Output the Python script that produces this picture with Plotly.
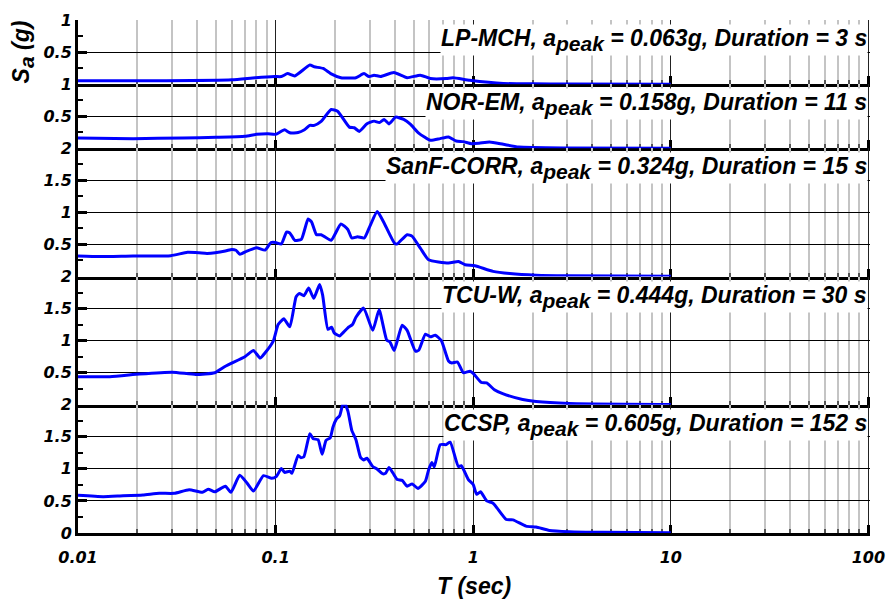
import plotly.graph_objects as go
from plotly.subplots import make_subplots

# ---------------- data ----------------
T1 = [0.01, 0.028, 0.06, 0.079, 0.099, 0.107, 0.115, 0.125, 0.149, 0.157, 0.174, 0.19, 0.214, 0.255,
      0.28, 0.297, 0.315, 0.34, 0.397, 0.463, 0.54, 0.607, 0.73, 0.79, 0.96, 1.42, 2.0, 3.0, 10]
S1 = [0.052, 0.052, 0.067, 0.10, 0.118, 0.118, 0.164, 0.128, 0.297, 0.27, 0.245, 0.164, 0.10, 0.10,
      0.164, 0.118, 0.14, 0.12, 0.18, 0.10, 0.14, 0.087, 0.087, 0.10, 0.061, 0.01, 0.004, 0.002, 0.0]

T2 = [0.01, 0.019, 0.034, 0.05, 0.07, 0.08, 0.0915, 0.1, 0.111, 0.118, 0.13, 0.14, 0.149, 0.157,
      0.17, 0.191, 0.206, 0.236, 0.25, 0.265, 0.29, 0.315, 0.335, 0.354, 0.375, 0.405, 0.445, 0.482,
      0.53, 0.607, 0.68, 0.75, 0.82, 0.89, 0.98, 1.07, 1.21, 1.42, 1.7, 3.0, 10]
S2 = [0.16, 0.15, 0.16, 0.17, 0.186, 0.217, 0.226, 0.217, 0.288, 0.241, 0.245, 0.288, 0.356, 0.356,
      0.418, 0.604, 0.577, 0.33, 0.32, 0.263, 0.381, 0.423, 0.40, 0.449, 0.38, 0.485, 0.449, 0.371,
      0.237, 0.124, 0.15, 0.175, 0.113, 0.103, 0.071, 0.078, 0.098, 0.062, 0.02, 0.005, 0.0]

T3 = [0.01, 0.0129, 0.019, 0.0295, 0.0358, 0.041, 0.045, 0.0557, 0.06, 0.063, 0.066, 0.0716, 0.08,
      0.0885, 0.0948, 0.1, 0.107, 0.1136, 0.118, 0.125, 0.135, 0.146, 0.152, 0.161, 0.17, 0.191,
      0.214, 0.232, 0.243, 0.26, 0.281, 0.301, 0.327, 0.356, 0.401, 0.413, 0.463, 0.49, 0.541,
      0.595, 0.75, 0.842, 0.91, 1.02, 1.26, 1.53, 2.08, 3.0, 10]
S3 = [0.32, 0.31, 0.32, 0.325, 0.377, 0.37, 0.36, 0.397, 0.423, 0.41, 0.347, 0.397, 0.447,
      0.412, 0.53, 0.53, 0.508, 0.692, 0.68, 0.565, 0.58, 0.896, 0.85, 0.652, 0.652, 0.565,
      0.82, 0.733, 0.60, 0.62, 0.60, 0.794, 1.012, 0.82, 0.514, 0.51, 0.652, 0.63, 0.438,
      0.26, 0.21, 0.234, 0.183, 0.168, 0.08, 0.046, 0.02, 0.01, 0.004]

T4 = [0.01, 0.0145, 0.0205, 0.030, 0.0394, 0.0492, 0.0557, 0.0702, 0.0773, 0.0835, 0.0885, 0.0974,
      0.103, 0.110, 0.118, 0.127, 0.132, 0.139, 0.147, 0.156, 0.167, 0.173, 0.184, 0.192, 0.198,
      0.211, 0.219, 0.232, 0.245, 0.255, 0.279, 0.310, 0.334, 0.365, 0.379, 0.398, 0.437, 0.463,
      0.51, 0.53, 0.573, 0.607, 0.643, 0.69, 0.75, 0.78, 0.832, 0.891, 0.963, 1.0, 1.10, 1.17,
      1.28, 1.41, 1.78, 2.08, 3.06, 10]
S4 = [0.438, 0.438, 0.478, 0.508, 0.473, 0.499, 0.60, 0.753, 0.845, 0.728, 0.81, 0.997,
      1.25, 1.34, 1.217, 1.685, 1.735, 1.70, 1.82, 1.66, 1.875, 1.71, 1.176, 1.21, 1.12,
      1.073, 1.12, 1.2, 1.25, 1.365, 1.507, 1.16, 1.48, 1.008, 0.98, 0.845, 1.24, 1.16,
      0.835, 0.85, 1.10, 1.06, 1.084, 1.0, 0.683, 0.652, 0.667, 0.50, 0.524, 0.49, 0.347, 0.34,
      0.234, 0.173, 0.081, 0.05, 0.02, 0.004]

T5 = [0.01, 0.0134, 0.0163, 0.0213, 0.0258, 0.0307, 0.0365, 0.0426, 0.0456, 0.0492, 0.0557, 0.0594,
      0.0658, 0.0716, 0.0773, 0.0868, 0.0955, 0.101, 0.107, 0.111, 0.118, 0.121, 0.130, 0.134,
      0.139, 0.149, 0.155, 0.164, 0.172, 0.180, 0.189, 0.195, 0.203, 0.211, 0.221, 0.232, 0.243,
      0.255, 0.269, 0.279, 0.290, 0.310, 0.327, 0.347, 0.36, 0.375, 0.397, 0.413, 0.437, 0.463,
      0.491, 0.525, 0.573, 0.595, 0.618, 0.635, 0.681, 0.73, 0.764, 0.841, 0.87, 0.945, 1.0,
      1.04, 1.09, 1.17, 1.26, 1.47, 1.59, 1.85, 2.08, 2.43, 3.06, 4.5, 10]
S5 = [0.588, 0.567, 0.577, 0.593, 0.619, 0.619, 0.674, 0.634, 0.684, 0.643, 0.73, 0.634,
      0.899, 0.781, 0.654, 0.894, 0.853, 0.884, 1.006, 0.945, 0.965, 0.93, 1.21, 1.175,
      1.19, 1.547, 1.47, 1.455, 1.23, 1.445, 1.485, 1.65, 1.776, 1.83, 2.05, 1.905, 1.6,
      1.455, 1.18, 1.14, 1.165, 1.037, 0.995, 0.925, 0.93, 1.02, 0.91, 0.833, 0.82, 0.73,
      0.766, 0.695, 0.807, 0.986, 1.098, 1.03, 1.378, 1.378, 1.42, 1.037, 1.05, 0.833, 0.756,
      0.603, 0.643, 0.50, 0.465, 0.21, 0.205, 0.107, 0.092, 0.04, 0.02, 0.01, 0.005]

NAMES = ["LP-MCH", "NOR-EM", "SanF-CORR", "TCU-W", "CCSP"]
APEAK = ["0.063", "0.158", "0.324", "0.444", "0.605"]
DURATION = ["3", "11", "15", "30", "152"]

X_MAJOR = [0.01, 0.1, 1, 10, 100]
X_MAJOR_TEXT = ["0.01", "0.1", "1", "10", "100"]
X_MINOR = [m * d for d in (0.01, 0.1, 1, 10) for m in range(2, 10)]

Y_RANGES = [[0, 1], [0, 1], [0, 2], [0, 2], [0, 2]]
Y_TICKS = [[0.5, 1], [0.5, 1], [0.5, 1, 1.5, 2], [0.5, 1, 1.5, 2], [0, 0.5, 1, 1.5, 2]]
Y_TICK_TEXT = [["0.5", "1"], ["0.5", "1"], ["0.5", "1", "1.5", "2"], ["0.5", "1", "1.5", "2"],
               ["0", "0.5", "1", "1.5", "2"]]
Y_MINOR = [[0.25, 0.75], [0.25, 0.75], [0.25, 0.75, 1.25, 1.75], [0.25, 0.75, 1.25, 1.75],
           [0.25, 0.75, 1.25, 1.75]]

SERIES = [(T1, S1), (T2, S2), (T3, S3), (T4, S4), (T5, S5)]

# ---------------- figure ----------------
TICKFONT = dict(family="DejaVu Sans", size=16, color="black", weight="bold", style="italic")
LABFONT = dict(family="Liberation Sans, Arial", size=23, color="black", weight="bold",
               style="italic")

fig = make_subplots(rows=5, cols=1, shared_xaxes=True, vertical_spacing=0,
                    row_heights=[1, 1, 2, 2, 2])

for i, (T, S) in enumerate(SERIES):
    n = min(len(T), len(S))
    fig.add_trace(go.Scatter(x=T[:n], y=S[:n], mode="lines",
                             line=dict(color="#0000ff", width=3, shape="spline", smoothing=0.5),
                             showlegend=False, name=NAMES[i]), row=i + 1, col=1)

for i in range(5):
    r = i + 1
    fig.update_xaxes(row=r, col=1, type="log", range=[-2, 2.008],
                     showline=True, linewidth=3, linecolor="black", layer="below traces",
                     ticks="inside", ticklen=8, tickwidth=2.5, tickcolor="black",
                     tickmode="array", tickvals=X_MAJOR, ticktext=X_MAJOR_TEXT,
                     showticklabels=(r == 5), tickfont=TICKFONT, ticklabelstandoff=8,
                     showgrid=True, gridcolor="#222222", gridwidth=1, zeroline=False,
                     minor=dict(tickmode="array", tickvals=X_MINOR, ticks="inside", ticklen=4,
                                tickwidth=1.5, tickcolor="#555555", showgrid=True,
                                gridcolor="#c4c4c4", gridwidth=1.5))
    fig.update_yaxes(row=r, col=1, range=Y_RANGES[i],
                     showline=True, linewidth=3, linecolor="black", layer="below traces",
                     ticks="inside", ticklen=9, tickwidth=2.5, tickcolor="black",
                     tickmode="array", tickvals=Y_TICKS[i], ticktext=Y_TICK_TEXT[i],
                     tickfont=TICKFONT, showgrid=True, gridcolor="black", gridwidth=1,
                     zeroline=False,
                     minor=dict(tickmode="array", tickvals=Y_MINOR[i], ticks="inside",
                                ticklen=5, tickwidth=2, tickcolor="black", showgrid=False))

SUB = '<sub><span style="font-size:21px">{}</span></sub>'
yrefs = ["y domain", "y2 domain", "y3 domain", "y4 domain", "y5 domain"]
for i in range(5):
    fig.add_annotation(
        text=f"{NAMES[i]}, a{SUB.format('peak')} = {APEAK[i]}g, Duration = {DURATION[i]} s",
        xref="paper", x=0.9975, xanchor="right", yref=yrefs[i], y=1, yanchor="top", yshift=-4,
        showarrow=False, font=LABFONT, bgcolor="white", borderpad=0)

fig.add_annotation(text="S" + SUB.format("a") + " (g)", textangle=-90, xref="paper", x=-0.069,
                   xanchor="center", yref="y domain", y=0.5, yanchor="middle",
                   showarrow=False, font=LABFONT)
fig.add_annotation(text="T (sec)", xref="paper", x=0.5, xanchor="center",
                   yref="paper", y=-0.103, yanchor="middle", showarrow=False, font=LABFONT)

fig.update_layout(width=896, height=601, margin=dict(l=78, r=19.4, t=11, b=68),
                  paper_bgcolor="white", plot_bgcolor="white", showlegend=False)

fig.write_html("out.html", config={"displayModeBar": False},
               post_script="document.body.style.margin='0';document.body.style.overflow='hidden';")
